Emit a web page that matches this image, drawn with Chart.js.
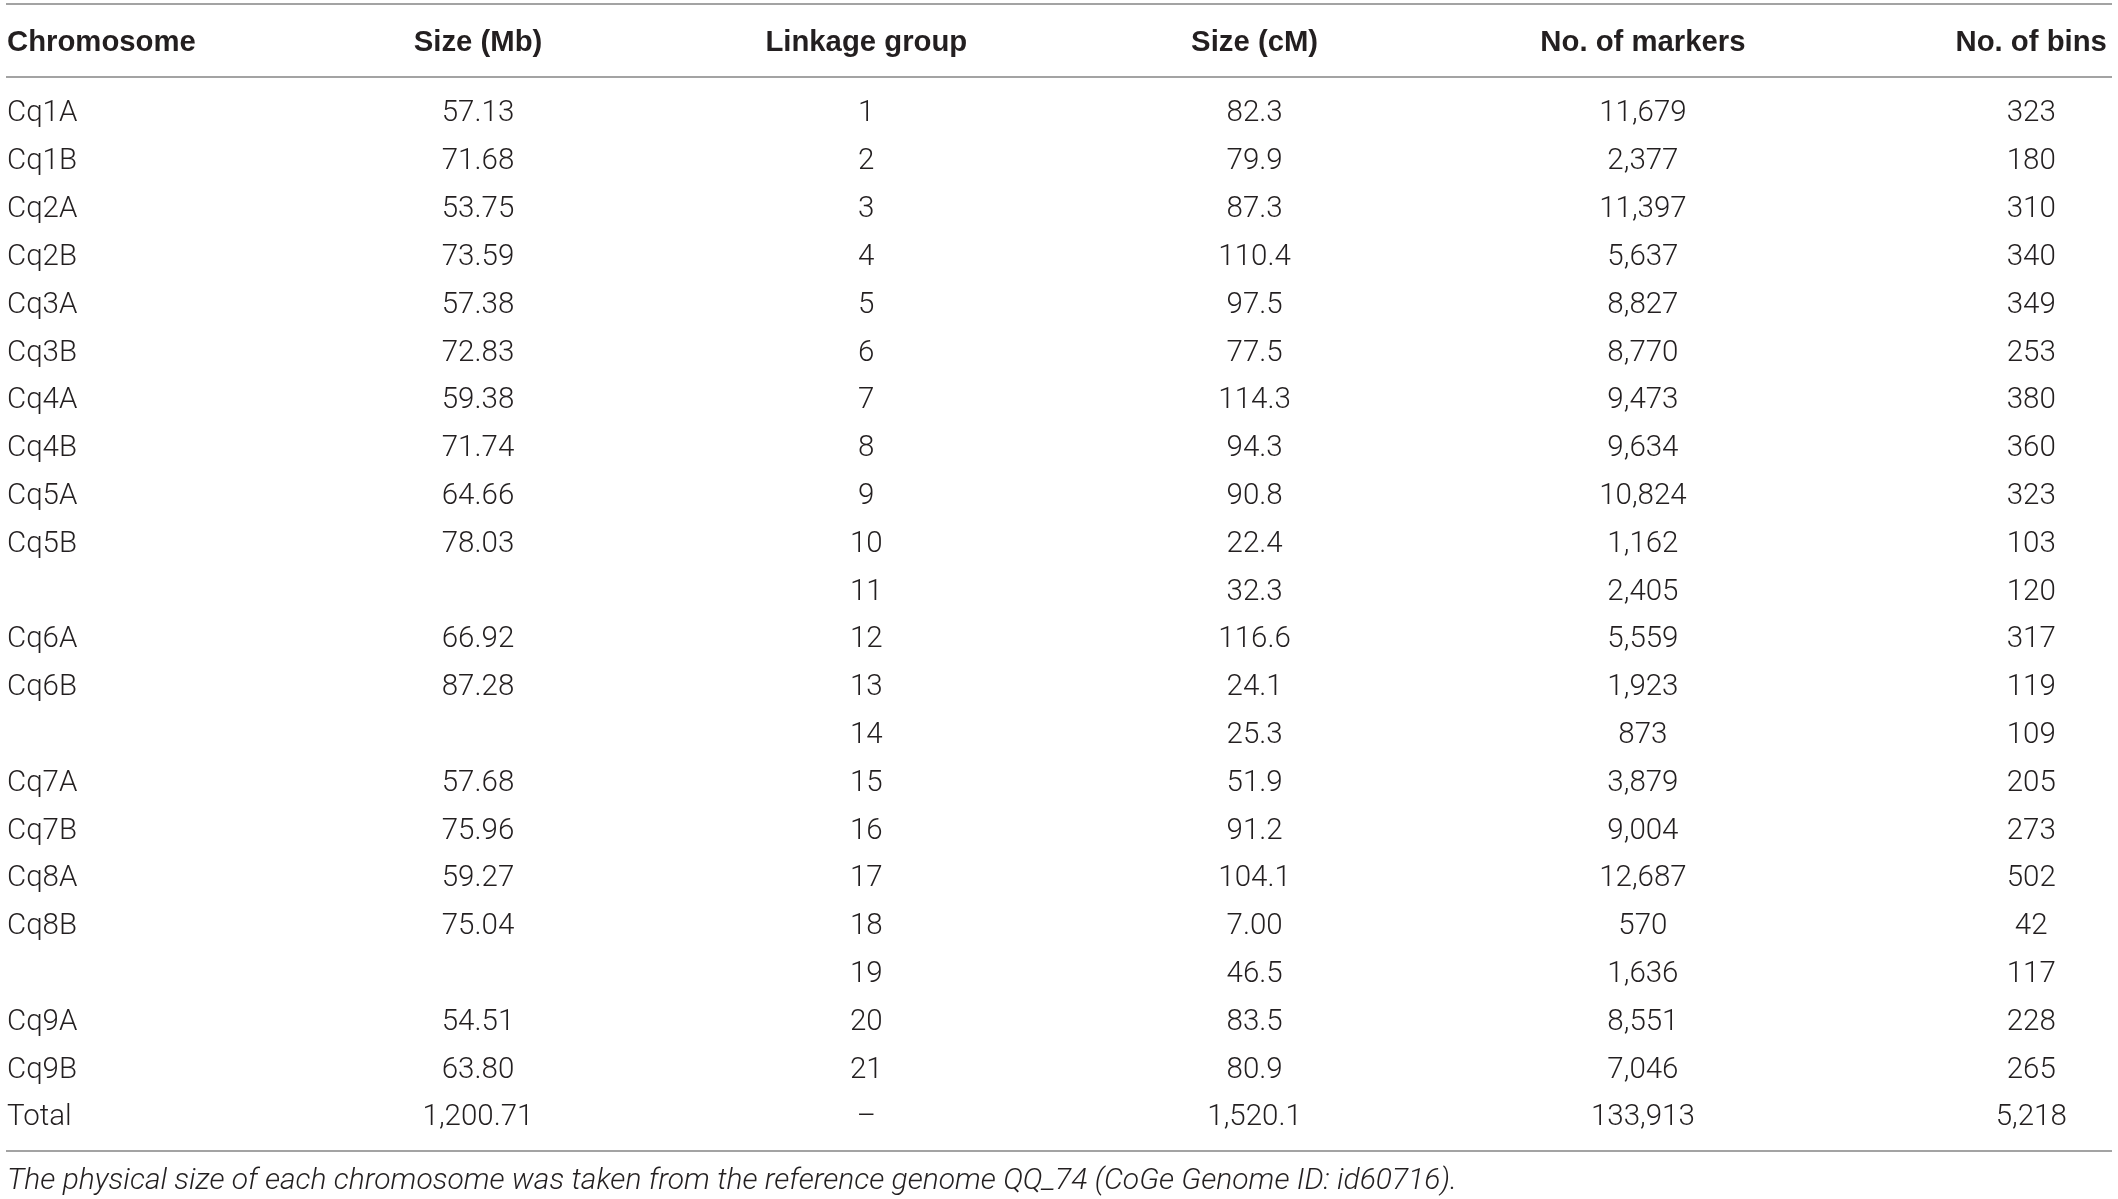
<!DOCTYPE html>
<html>
<head>
<meta charset="utf-8">
<script src="https://cdn.jsdelivr.net/npm/chart.js@4.4.0/dist/chart.umd.min.js"></script>
<style>
  html, body { margin: 0; padding: 0; background: #fff; }
  #wrap { position: relative; width: 2118px; height: 1199px; }
</style>
</head>
<body>
<div id="wrap"><canvas id="tbl"></canvas></div>
<script>
// ── table data ─────────────────────────────────────────────
var headers = ['Chromosome', 'Size (Mb)', 'Linkage group', 'Size (cM)', 'No. of markers', 'No. of bins'];
var chromosomes = ['Cq1A', 'Cq1B', 'Cq2A', 'Cq2B', 'Cq3A', 'Cq3B', 'Cq4A', 'Cq4B', 'Cq5A', 'Cq5B', '',
  'Cq6A', 'Cq6B', '', 'Cq7A', 'Cq7B', 'Cq8A', 'Cq8B', '', 'Cq9A', 'Cq9B', 'Total'];
var sizeMb = [57.13, 71.68, 53.75, 73.59, 57.38, 72.83, 59.38, 71.74, 64.66, 78.03, null,
  66.92, 87.28, null, 57.68, 75.96, 59.27, 75.04, null, 54.51, 63.80, 1200.71];
var linkageGroup = ['1', '2', '3', '4', '5', '6', '7', '8', '9', '10', '11', '12', '13', '14',
  '15', '16', '17', '18', '19', '20', '21', '\u2013'];
var sizeCm = ['82.3', '79.9', '87.3', '110.4', '97.5', '77.5', '114.3', '94.3', '90.8', '22.4', '32.3',
  '116.6', '24.1', '25.3', '51.9', '91.2', '104.1', '7.00', '46.5', '83.5', '80.9', '1,520.1'];
var markers = [11679, 2377, 11397, 5637, 8827, 8770, 9473, 9634, 10824, 1162, 2405,
  5559, 1923, 873, 3879, 9004, 12687, 570, 1636, 8551, 7046, 133913];
var bins = [323, 180, 310, 340, 349, 253, 380, 360, 323, 103, 120,
  317, 119, 109, 205, 273, 502, 42, 117, 228, 265, 5218];
var footnote = 'The physical size of each chromosome was taken from the reference genome QQ_74 (CoGe Genome ID: id60716).';

// ── formatting ─────────────────────────────────────────────
var fmt2 = function (v) {
  return v === null ? '' : v.toLocaleString('en-US', {minimumFractionDigits: 2, maximumFractionDigits: 2});
};
var fmtInt = function (v) { return v === null ? '' : v.toLocaleString('en-US'); };

var columns = [
  chromosomes,
  sizeMb.map(fmt2),
  linkageGroup,
  sizeCm,
  markers.map(fmtInt),
  bins.map(fmtInt)
];

var TEXT = '#231f20';
var RULE = '#a3a3a3';
var BODY_FONT = '300 29.5px Roboto, "Liberation Sans", sans-serif';
var HEAD_FONT = 'bold 29.3px "Liberation Sans", Arial, sans-serif';
var NOTE_FONT = 'italic 300 30px Roboto, "Liberation Sans", sans-serif';

// row-unit positions of header, rules and note (rows are 0..21)
var HEADER_ROW = -1.42, TOP_RULE = -2.23, HEAD_RULE = -0.71, BOTTOM_RULE = 21.75, NOTE_ROW = 22.33;

var datasets = columns.map(function (col, c) {
  var pts = [];
  col.forEach(function (txt, r) {
    if (txt !== '') pts.push({x: c, y: r, label: txt});
  });
  return {label: headers[c], data: pts, pointRadius: 0, pointHoverRadius: 0, showLine: false};
});

var tablePlugin = {
  id: 'tableText',
  afterDraw: function (chart) {
    var ctx = chart.ctx;
    var xs = chart.scales.x, ys = chart.scales.y;
    var left = chart.chartArea.left;
    ctx.save();
    // rules
    ctx.strokeStyle = RULE;
    ctx.lineWidth = 2;
    [TOP_RULE, HEAD_RULE, BOTTOM_RULE].forEach(function (r) {
      var y = Math.round(ys.getPixelForValue(r));
      ctx.beginPath();
      ctx.moveTo(left + 6, y);
      ctx.lineTo(left + 2112, y);
      ctx.stroke();
    });
    ctx.fillStyle = TEXT;
    // header
    ctx.textBaseline = 'middle';
    ctx.font = HEAD_FONT;
    headers.forEach(function (h, c) {
      var y = ys.getPixelForValue(HEADER_ROW);
      if (c === 0) { ctx.textAlign = 'left'; ctx.fillText(h, left + 7, y); }
      else { ctx.textAlign = 'center'; ctx.fillText(h, xs.getPixelForValue(c), y); }
    });
    // cells, placed at the dataset points (baseline = row centre + half cap height)
    ctx.textBaseline = 'alphabetic';
    ctx.font = BODY_FONT;
    chart.data.datasets.forEach(function (ds, c) {
      var meta = chart.getDatasetMeta(c);
      meta.data.forEach(function (pt, j) {
        var txt = ds.data[j].label;
        var y = pt.y + 10.5;
        if (c === 0) { ctx.textAlign = 'left'; ctx.fillText(txt, left + 7, y); }
        else { ctx.textAlign = 'center'; ctx.fillText(txt, pt.x, y); }
      });
    });
    // footnote
    ctx.font = NOTE_FONT;
    ctx.textAlign = 'left';
    ctx.fillText(footnote, left + 7, ys.getPixelForValue(NOTE_ROW) + 10.5);
    ctx.restore();
  }
};

new Chart(document.getElementById('tbl'), {
  type: 'scatter',
  data: {datasets: datasets},
  options: {
    responsive: true, maintainAspectRatio: false, animation: false,
    devicePixelRatio: 1,
    layout: {padding: 0},
    plugins: {legend: {display: false}, tooltip: {enabled: false}},
    events: [],
    scales: {
      x: {type: 'linear', display: false, min: -0.231, max: 5.2235},
      y: {type: 'linear', display: false, reverse: true, min: -2.3217, max: 22.757}
    }
  },
  plugins: [tablePlugin]
});
</script>
</body>
</html>
